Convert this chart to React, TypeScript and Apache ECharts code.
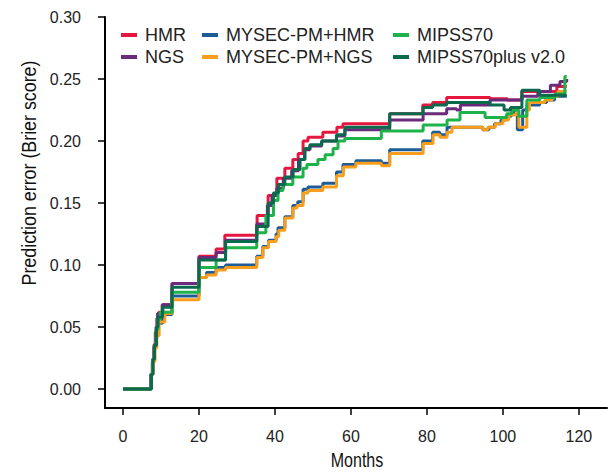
import React, { useEffect, useRef } from "react";
import * as echarts from "echarts";

type Pt = [number, number];

const xTicks = [0, 20, 40, 60, 80, 100, 120];
const yTicks = [0, 0.05, 0.1, 0.15, 0.2, 0.25, 0.3];

const HMR: Pt[] = [
  [0, 0], [7.3, 0.012], [7.7, 0.022], [8.1, 0.034], [8.5, 0.046], [8.9, 0.057], [9.4, 0.062], [10.5, 0.068],
  [12.9, 0.085], [20, 0.107], [24.5, 0.113], [26.8, 0.124], [35.3, 0.14], [38.2, 0.156], [40.5, 0.17],
  [42.6, 0.178], [44.7, 0.185], [46.1, 0.19], [47.4, 0.2], [48.7, 0.203], [52.6, 0.207], [56.3, 0.211],
  [57.9, 0.214], [70.2, 0.222], [78.9, 0.229], [81.5, 0.231], [85.2, 0.235], [96.6, 0.234], [101.2, 0.233],
  [105, 0.24], [114.2, 0.244], [116.8, 0.244],
];

const NGS: Pt[] = [
  [0, 0], [7.4, 0.012], [7.8, 0.024], [8.2, 0.036], [8.7, 0.05], [9.1, 0.061], [10.3, 0.068], [12.9, 0.085],
  [20, 0.106], [24.5, 0.11], [27, 0.12], [35.2, 0.133], [38, 0.148], [39.2, 0.156], [40.5, 0.162],
  [42.2, 0.17], [44.4, 0.176], [46.2, 0.185], [47.8, 0.193], [49.2, 0.196], [52.3, 0.2], [56.2, 0.204],
  [58.4, 0.209], [70.2, 0.217], [79, 0.222], [85.2, 0.226], [87.8, 0.225], [88.8, 0.229], [96.6, 0.233],
  [105, 0.236], [109.2, 0.24], [112.5, 0.245], [115, 0.248], [116.8, 0.25],
];

const MYSEC_HMR: Pt[] = [
  [0, 0], [7.4, 0.012], [7.8, 0.024], [8.3, 0.035], [8.8, 0.047], [9.3, 0.053], [10.4, 0.06], [12.9, 0.075],
  [20, 0.09], [22, 0.094], [24.5, 0.098], [27, 0.1], [35.2, 0.107], [36.8, 0.115], [38.3, 0.12], [40.3, 0.125],
  [40.8, 0.13], [42.6, 0.139], [44.7, 0.148], [46, 0.151], [47.4, 0.161], [48.7, 0.163], [52.6, 0.166],
  [56.2, 0.175], [57.9, 0.181], [61.3, 0.184], [68, 0.182], [70.2, 0.193], [78.9, 0.2], [81.5, 0.207],
  [83.4, 0.205], [85.3, 0.211], [94.7, 0.209], [96.3, 0.211], [97.8, 0.214], [99.5, 0.217], [100.8, 0.22],
  [102.2, 0.223], [103.8, 0.209], [105.2, 0.225], [106.3, 0.229], [109.7, 0.231], [111.5, 0.233],
  [113.6, 0.236], [116.8, 0.236],
];

const MYSEC_NGS: Pt[] = [
  [0, 0], [7.5, 0.012], [7.9, 0.022], [8.4, 0.033], [8.9, 0.043], [9.5, 0.054], [11, 0.061], [12.9, 0.072],
  [20, 0.09], [22, 0.092], [24.5, 0.096], [27, 0.098], [35.2, 0.106], [36.8, 0.114], [38.3, 0.119],
  [40.3, 0.123], [41, 0.128], [42.6, 0.138], [44.7, 0.146], [45.8, 0.148], [47.4, 0.158], [48.7, 0.16],
  [52.6, 0.163], [56.2, 0.172], [58, 0.179], [61.3, 0.182], [68, 0.18], [70.2, 0.19], [79, 0.198],
  [81.6, 0.205], [83.4, 0.203], [85.3, 0.207], [86.6, 0.211], [94.7, 0.209], [96, 0.211], [98, 0.214],
  [100, 0.217], [101.5, 0.221], [103.5, 0.223], [104.2, 0.211], [106.3, 0.225], [107, 0.231], [111, 0.233],
  [113, 0.236], [114.5, 0.24], [116.8, 0.24],
];

const MIPSS70: Pt[] = [
  [0, 0], [7.4, 0.012], [7.8, 0.024], [8.2, 0.035], [8.7, 0.048], [9.2, 0.056], [9.8, 0.062], [12.9, 0.078],
  [20, 0.098], [24.5, 0.104], [27, 0.114], [35.2, 0.126], [37.6, 0.14], [39.6, 0.152], [40.8, 0.16],
  [42.1, 0.165], [44.7, 0.171], [47.4, 0.178], [48.4, 0.181], [51.3, 0.185], [53.2, 0.189], [55.3, 0.194],
  [56.6, 0.2], [58.4, 0.202], [68, 0.208], [79, 0.213], [85.3, 0.217], [88.7, 0.223], [95.3, 0.219],
  [101, 0.222], [102.4, 0.225], [104.2, 0.22], [106.3, 0.233], [109.7, 0.235], [113.7, 0.238],
  [116.3, 0.252], [116.8, 0.252],
];

const MIPSS70PLUS: Pt[] = [
  [0, 0], [7.5, 0.012], [7.9, 0.024], [8.3, 0.035], [8.8, 0.05], [9.2, 0.058], [10.4, 0.066], [12.9, 0.082],
  [20, 0.104], [27, 0.119], [35.2, 0.131], [38.2, 0.15], [39.6, 0.158], [40.9, 0.165], [42.6, 0.171],
  [44.8, 0.177], [46.6, 0.185], [47.9, 0.194], [49.2, 0.197], [52.3, 0.2], [56.2, 0.205], [58.4, 0.211],
  [70.2, 0.222], [79, 0.227], [81.5, 0.229], [85.2, 0.231], [96.6, 0.229], [100.3, 0.225], [102, 0.227],
  [105, 0.241], [109.7, 0.237], [116.8, 0.237],
];

const seriesDefs = [
  { name: "HMR", data: HMR, color: "#E5173F" },
  { name: "NGS", data: NGS, color: "#6B2A7B" },
  { name: "MYSEC-PM+HMR", data: MYSEC_HMR, color: "#1D5C97" },
  { name: "MYSEC-PM+NGS", data: MYSEC_NGS, color: "#F99D1C" },
  { name: "MIPSS70", data: MIPSS70, color: "#1DB34A" },
  { name: "MIPSS70plus v2.0", data: MIPSS70PLUS, color: "#0B6A4E" },
];

const legendCols = [
  { left: 121, items: ["HMR", "NGS"] },
  { left: 202, items: ["MYSEC-PM+HMR", "MYSEC-PM+NGS"] },
  { left: 393, items: ["MIPSS70", "MIPSS70plus v2.0"] },
];

const SANS = "'Liberation Sans', Arial, Helvetica, sans-serif";

export default function App() {
  const ref = useRef<HTMLDivElement>(null);
  useEffect(() => {
    if (!ref.current) return;
    const chart = echarts.init(ref.current, undefined, { renderer: "svg" });
    chart.setOption({
      animation: false,
      backgroundColor: "#ffffff",
      grid: { left: 105, right: 2, top: 17, bottom: 65, containLabel: false, outerBoundsMode: "none" },
      legend: legendCols.map((c) => ({
        orient: "vertical",
        left: c.left,
        top: 26,
        padding: 0,
        itemGap: 4,
        itemWidth: 16,
        itemHeight: 4,
        icon: "rect",
        data: c.items,
        textStyle: { fontFamily: SANS, fontSize: 18, color: "#222", lineHeight: 18, padding: [0, 0, 0, 3] },
      })),
      xAxis: {
        type: "value",
        min: -4.74,
        max: 127.4,
        splitLine: { show: false },
        axisLine: { show: true, onZero: false, lineStyle: { color: "#000", width: 2 } },
        axisTick: { show: true, length: 7, customValues: xTicks, lineStyle: { color: "#000", width: 1.5 } },
        axisLabel: { customValues: xTicks, margin: 20, fontFamily: SANS, fontSize: 16, color: "#222" },
      },
      yAxis: {
        type: "value",
        min: -0.0153,
        max: 0.3,
        splitLine: { show: false },
        axisLine: { show: true, onZero: false, lineStyle: { color: "#000", width: 2 } },
        axisTick: { show: true, length: 7, customValues: yTicks, lineStyle: { color: "#000", width: 1.5 } },
        axisLabel: {
          customValues: yTicks,
          margin: 24,
          fontFamily: SANS,
          fontSize: 16,
          color: "#222",
          formatter: (v: number) => v.toFixed(2),
        },
      },
      graphic: [
        {
          type: "text",
          x: 28,
          y: 173,
          rotation: Math.PI / 2,
          scaleX: 0.85,
          style: {
            text: "Prediction error (Brier score)",
            fontFamily: SANS,
            fontSize: 21,
            fill: "#111",
            align: "center",
            verticalAlign: "middle",
          },
        },
        {
          type: "text",
          x: 357,
          y: 460,
          scaleX: 0.8,
          style: {
            text: "Months",
            fontFamily: SANS,
            fontSize: 20,
            fill: "#111",
            align: "center",
            verticalAlign: "middle",
          },
        },
      ],
      series: seriesDefs.map((s, i) => ({
        name: s.name,
        type: "line",
        step: "end",
        data: s.data,
        showSymbol: false,
        symbol: "none",
        z: 2 + i,
        color: s.color,
        lineStyle: { color: s.color, width: 3 },
        itemStyle: { color: s.color },
      })),
    });
    return () => chart.dispose();
  }, []);
  return <div ref={ref} style={{ position: "absolute", left: 0, top: 0, width: 609, height: 473 }} />;
}
